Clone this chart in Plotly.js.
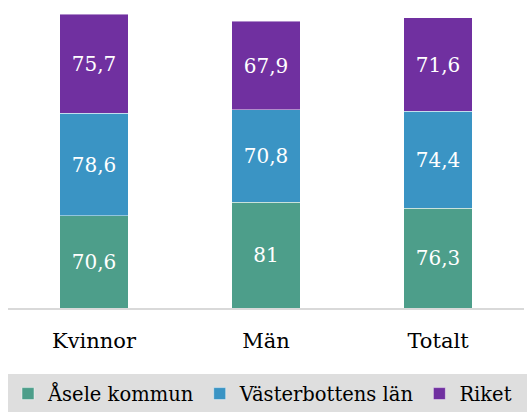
<!DOCTYPE html>
<html><head><meta charset="utf-8">
<script src="https://cdn.plot.ly/plotly-3.0.1.min.js"></script>
<style>html,body{margin:0;padding:0;background:#fff}#chart{width:527px;height:412px}</style>
</head><body><div id="chart"></div>
<script>
const categories = ["Kvinnor", "Män", "Totalt"];
const seriesNames = ["Åsele kommun", "Västerbottens län", "Riket"];
const aseleKommun = [70.6, 81, 76.3];
const vasterbottensLan = [78.6, 70.8, 74.4];
const riket = [75.7, 67.9, 71.6];
const colors = ["#4d9e8a", "#3a94c4", "#7030a0"];
const FONT = "DejaVu Serif";

const values = [aseleKommun, vasterbottensLan, riket];
const traces = values.map((v, i) => ({
  type: "bar",
  name: seriesNames[i],
  x: categories,
  y: v,
  text: v.map(n => String(n).replace(".", ",")),
  textposition: "inside",
  insidetextanchor: "middle",
  textangle: 0,
  constraintext: "none",
  textfont: {family: FONT, size: 20, color: "#ffffff"},
  marker: {color: colors[i], line: {color: "rgba(255,255,255,0.45)", width: 1}},
  hoverinfo: "skip"
}));

const layout = {
  width: 527, height: 412,
  margin: {l: 8, r: 3, t: 0, b: 104, pad: 0, autoexpand: false},
  barmode: "stack",
  bargap: 0.6,
  paper_bgcolor: "#ffffff",
  plot_bgcolor: "#ffffff",
  showlegend: true,
  legend: {
    orientation: "h",
    x: 0.0, xanchor: "left",
    y: -0.279, yanchor: "middle",
    bgcolor: "rgba(0,0,0,0)",
    font: {family: FONT, size: 19.5, color: "#000000"},
    traceorder: "normal"
  },
  xaxis: {
    type: "category",
    showline: true, linecolor: "#d9d9d9", linewidth: 1.5,
    showgrid: false, zeroline: false,
    ticks: "outside", ticklen: 13, tickcolor: "rgba(0,0,0,0)",
    tickfont: {family: FONT, size: 21, color: "#000000"}
  },
  yaxis: {visible: false, range: [0, 236], showgrid: false, zeroline: false, fixedrange: true},
  shapes: [{
    type: "rect", xref: "paper", yref: "paper",
    x0: 0, x1: 1.006, y0: -0.36, y1: -0.214,
    fillcolor: "#dedede", line: {width: 0}, layer: "below"
  }],
  hovermode: false
};

Plotly.newPlot("chart", traces, layout, {staticPlot: true, displayModeBar: false});
</script></body></html>
